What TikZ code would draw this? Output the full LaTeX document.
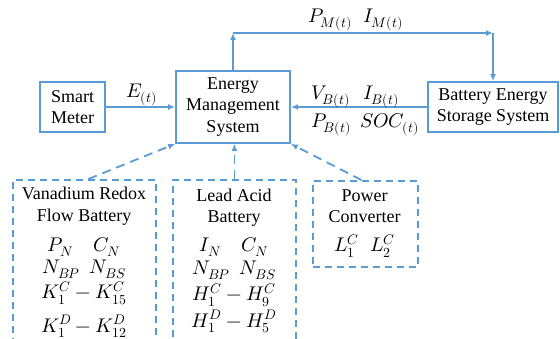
\documentclass[tikz,border=0pt]{standalone}
\usepackage{fontspec}
\usepackage{unicode-math}
\setmainfont{Liberation Serif}
\setmathfont{latinmodern-math.otf}[Scale=1.1]
\usepackage{xcolor}
\usetikzlibrary{arrows.meta,positioning,calc}
\definecolor{emsblue}{RGB}{91,155,213}
\begin{document}
\begin{tikzpicture}[x=1pt,y=-1pt,font=\fontsize{18}{21.5}\selectfont,>={Latex[length=7pt,width=6pt]},
  solidbox/.style={draw=emsblue,line width=1.8pt,align=center,inner sep=0pt,text=black},
  dashbox/.style={draw=emsblue,line width=1.8pt,dash pattern=on 7pt off 5pt,inner sep=0pt,anchor=north west},
  flow/.style={->,emsblue,line width=1.8pt},
  dflow/.style={->,emsblue,line width=1.8pt,dash pattern=on 9pt off 6pt},
  lbl/.style={anchor=base west,inner sep=0pt},
  row/.style={anchor=base,inner sep=0pt}]
  \useasboundingbox (0,0) rectangle (560,339);
  \clip (0,0) rectangle (560,339);
  % main blocks
  \node[solidbox,minimum width=65pt,minimum height=50pt] (meter) at (72.5,107) {Smart\\Meter};
  \node[solidbox,minimum width=114pt,minimum height=72pt] (ems) at (233,107) {Energy\\Management\\System};
  \node[solidbox,minimum width=130pt,minimum height=50pt] (bess) at (493,107) {Battery Energy\\Storage System};
  % signal loop to the storage
  \coordinate (up) at (ems.north |- 0,33);
  \coordinate (over) at (bess.north |- 0,33);
  \draw[flow] (ems.north) -- (up);
  \draw[flow] (up) -- (over);
  \draw[flow] (over) -- (bess.north);
  \node[lbl] (pm) at (308,23) {$P_{M(t)}$};
  \node[lbl] (im) at (363,23) {$I_{M(t)}$};
  % measurements
  \draw[flow] (meter) -- (ems);
  \node[lbl] (et) at (126,98) {$E_{(t)}$};
  \draw[flow] (bess) -- (ems);
  \node[lbl] (vb) at (311,100) {$V_{B(t)}$};
  \node[lbl] (ib) at (363,100) {$I_{B(t)}$};
  \node[lbl] (pb) at (311,128) {$P_{B(t)}$};
  \node[lbl] (soc) at (360,128) {$SOC_{(t)}$};
  % parameter blocks
  \node[dashbox,minimum width=143pt,minimum height=180pt] (vrfb) at (12,179) {};
  \node[dashbox,minimum width=123pt,minimum height=180pt] (lead) at (172,179) {};
  \node[dashbox,minimum width=105pt,minimum height=86pt] (conv) at (312,180) {};
  \foreach \y/\txt [count=\i] in {200/{Vanadium Redox},222/{Flow Battery},252/{$P_N\hspace{20pt}C_N$},
      274/{$N_{BP}\hspace{9pt}N_{BS}$},299/{$K_1^C-K_{15}^C$},332/{$K_1^D-K_{12}^D$}}
    \node[row] (vrfb\i) at (84,\y) {\txt};
  \foreach \y/\txt [count=\i] in {202/{Lead Acid},223/{Battery},252/{$I_N\hspace{20pt}C_N$},
      275/{$N_{BP}\hspace{9pt}N_{BS}$},301/{$H_1^C-H_9^C$},327/{$H_1^D-H_5^D$}}
    \node[row] (lead\i) at (234,\y) {\txt};
  \foreach \y/\txt [count=\i] in {202/{Power},223/{Converter},252/{$L_1^C\;\;L_2^C$}}
    \node[row] (conv\i) at (364.5,\y) {\txt};
  \draw[dflow] ($(vrfb.north)+(4,0)$) -- (ems.south west);
  \draw[dflow] (lead.north) -- (lead.north |- ems.south);
  \draw[dflow] ($(conv.north)+(-4,0)$) -- (ems.south east);
\end{tikzpicture}
\end{document}
